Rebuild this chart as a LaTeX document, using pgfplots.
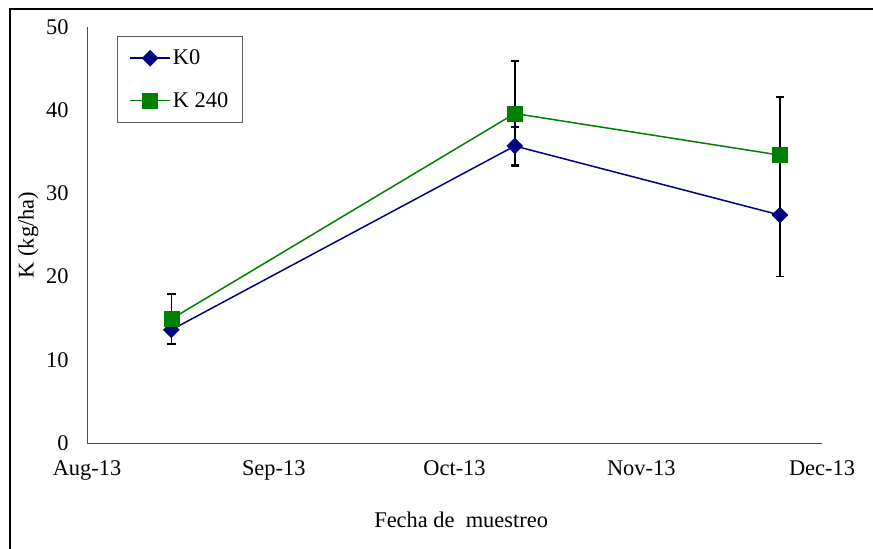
\documentclass[border=0pt]{standalone}
\usepackage{fontspec}
\setmainfont{Liberation Serif}
\usepackage{pgfplots}
\usepackage{pgfplotstable}
\pgfplotsset{compat=1.18}

\definecolor{kzero}{RGB}{0,0,128}
\definecolor{kdos}{RGB}{0,128,0}

% day = days after 1 Aug 2013; e = standard error
\pgfplotstableread{
d    k     e
14   13.6  1.7
71   35.7  2.3
115  27.4  7.4
}\tablaKcero
\pgfplotstableread{
d    k     e
14   14.9  3.0
71   39.6  6.3
115  34.6  7.0
}\tablaKdos

\newcommand{\fs}{\fontsize{22.5}{26}\selectfont}

\pgfplotsset{
  barras/.style={
    error bars/y dir=both,
    error bars/y explicit,
    error bars/error mark=-,
    error bars/error bar style={black, line width=1.5bp, solid},
    error bars/error mark options={black, line width=1.5bp, mark size=4.2bp, rotate=90},
  },
}

\begin{document}
\begin{tikzpicture}[x=1bp,y=1bp]
\path[use as bounding box] (0,0) rectangle (873,549);
\draw[line width=1.1bp] (10,-5) -- (10,540) -- (880,540);
\begin{axis}[
  at={(87bp,106bp)}, anchor=south west,
  scale only axis, width=735bp, height=416bp,
  xmin=0, xmax=122, ymin=0, ymax=50,
  axis x line*=bottom, axis y line*=left,
  axis line style={draw=gray!60!black, line width=0.9bp, -},
  xtick={0,31,61,92,122},
  xticklabels={Aug-13,Sep-13,Oct-13,Nov-13,Dec-13},
  ytick={0,10,...,50},
  major tick length=0pt,
  tick label style={font=\fs},
  /pgf/number format/assume math mode=true,
  xticklabel style={yshift=-14bp},
  yticklabel style={xshift=-15bp},
  xlabel={Fecha de\ \ muestreo},
  ylabel={K (kg/ha)},
  label style={font=\fs},
  xlabel style={at={(axis description cs:0.509,-0.185)}, anchor=center},
  ylabel style={at={(axis description cs:-0.080,0.5)}, anchor=center},
  legend cell align=left,
  legend style={at={(axis description cs:0.0408,0.978)}, anchor=north west,
    draw=gray!70!black, line width=0.8bp, font=\fs,
    row sep=22bp, inner xsep=12bp, inner ysep=11.5bp},
  legend image code/.code={
    \draw[#1, mark repeat=2, mark phase=2] plot coordinates {(0bp,0bp) (20bp,0bp) (40bp,0bp)};
  },
]
\addplot[kzero, line width=1.5bp, mark=square*,
  mark options={rotate=45, mark size=5.6bp, line width=0.5bp, fill=kzero, draw=kzero},
  barras]
  table[x=d, y=k, y error=e]{\tablaKcero};
\addlegendentry{K0}
\addplot[kdos, line width=1.5bp, mark=square*,
  mark options={mark size=7.5bp, line width=0.5bp, fill=kdos, draw=kdos},
  barras]
  table[x=d, y=k, y error=e]{\tablaKdos};
\addlegendentry{K 240}
\end{axis}
\end{tikzpicture}
\end{document}
